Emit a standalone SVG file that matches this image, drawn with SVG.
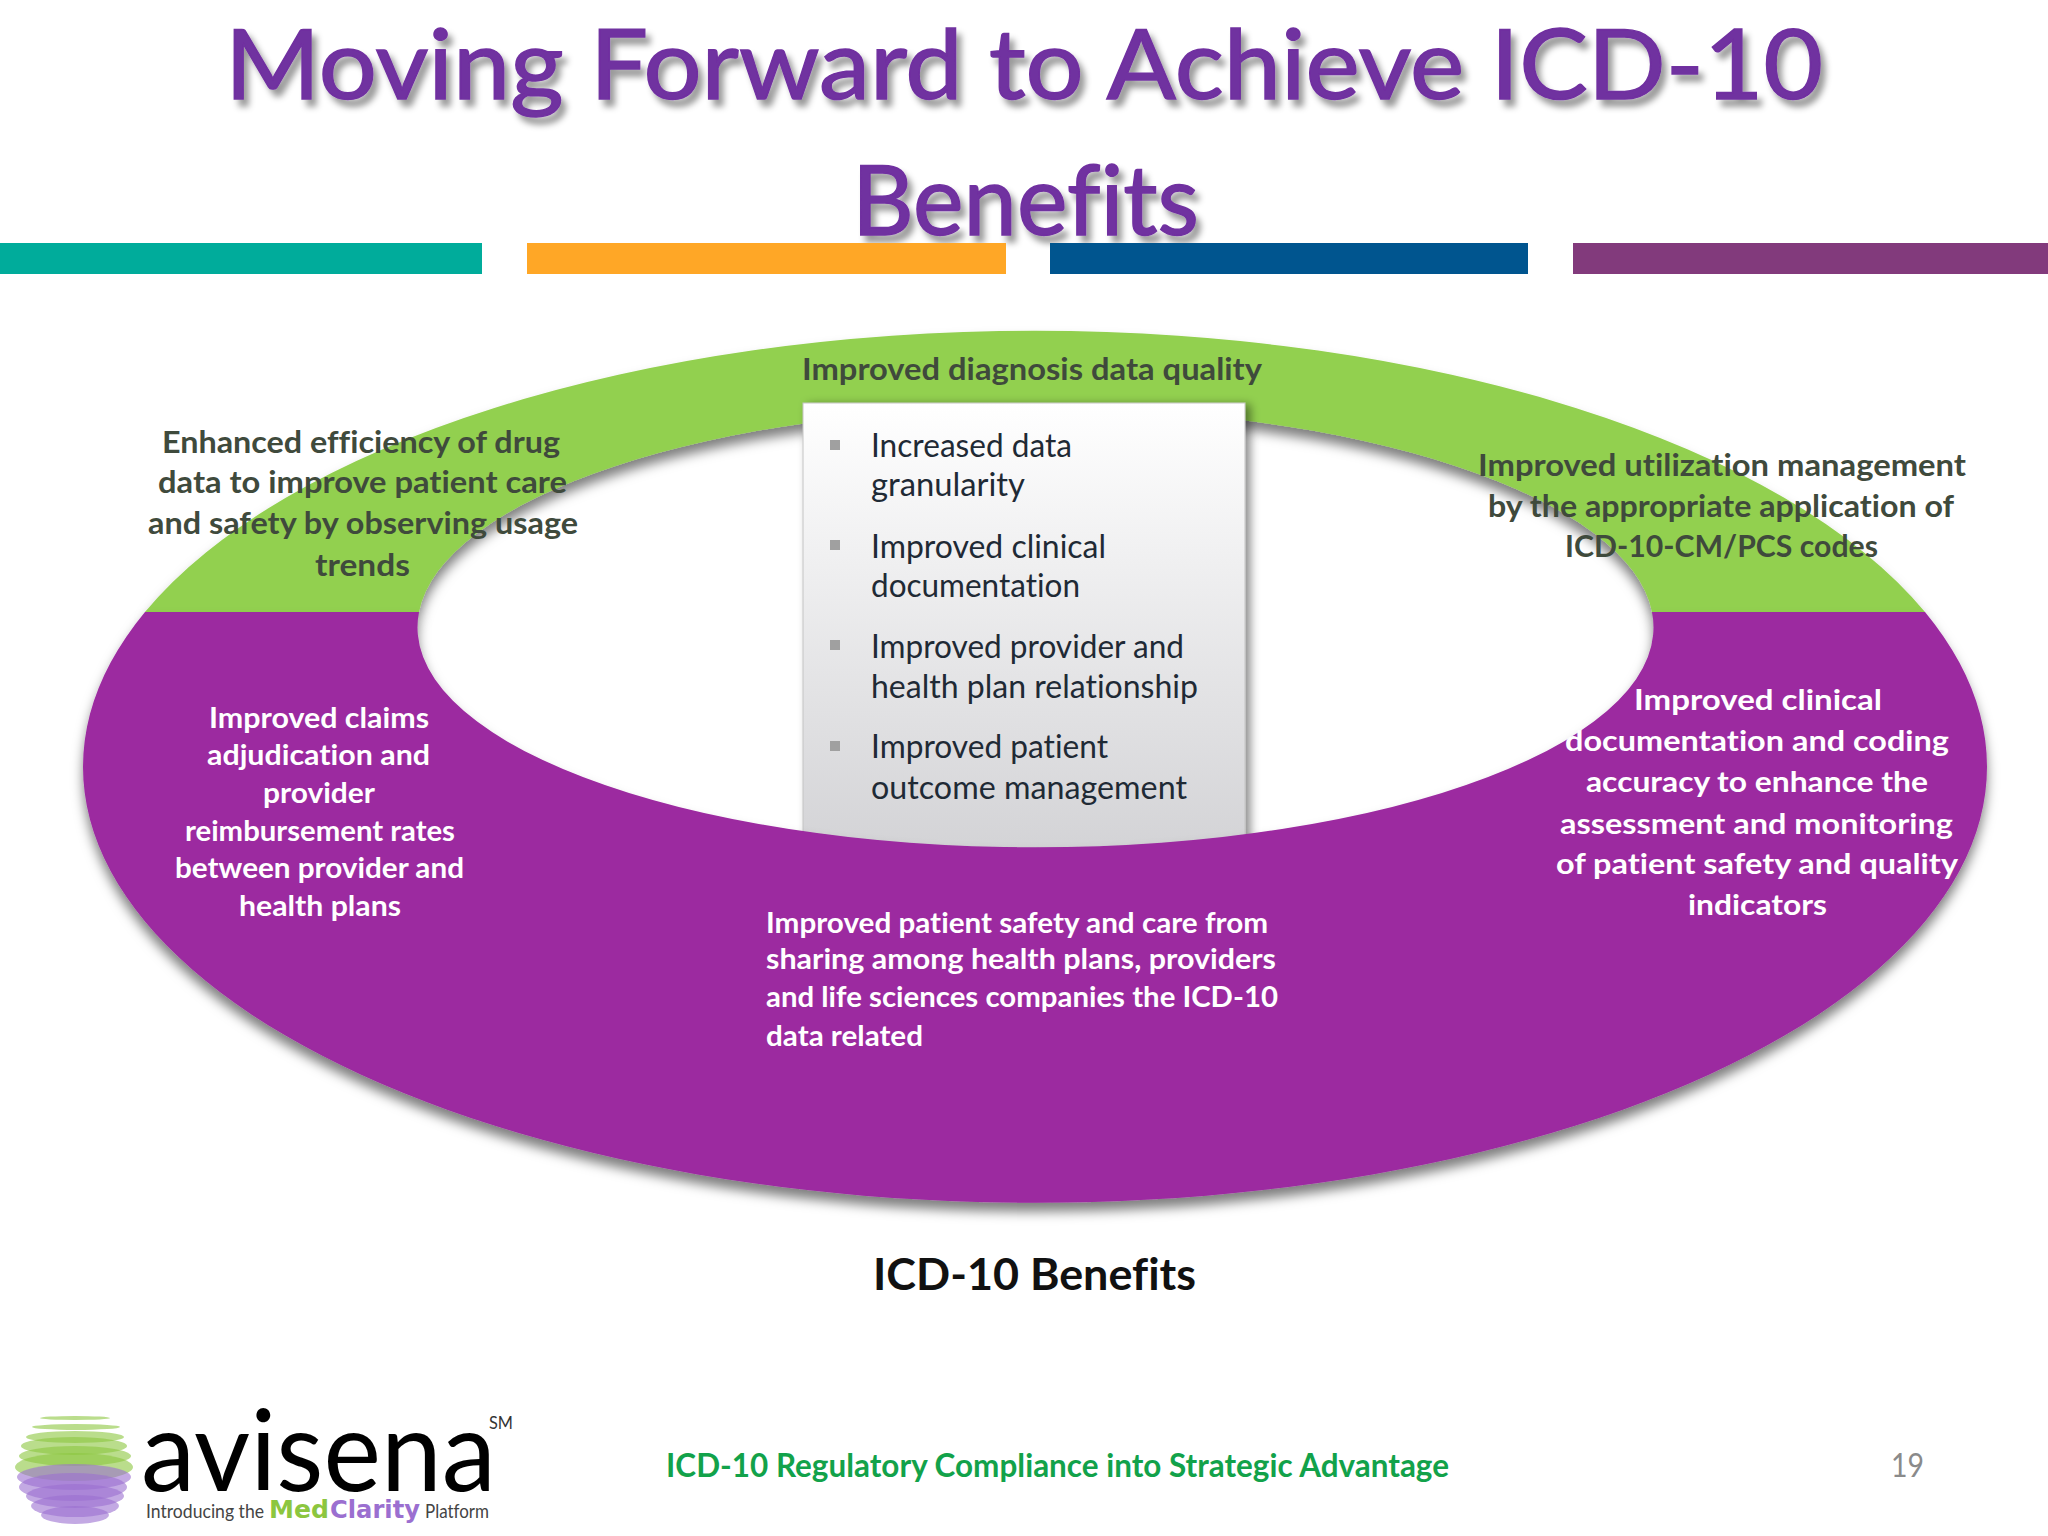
<svg xmlns="http://www.w3.org/2000/svg" width="2048" height="1536" viewBox="0 0 2048 1536">
<style>
text{font-family:"Lato","Noto Sans",sans-serif;font-variant-ligatures:none}
.title{font-size:97px;fill:#7030a0;stroke:#7030a0;stroke-width:1.5px;filter:url(#ts)}
.dark{font-size:30px;font-weight:700;fill:#3f4a3c}
.white{font-size:29px;font-weight:700;fill:#fff}
.item{font-size:32px;fill:#1f2a35}
.bullet{fill:#a0a0a0}
.lg{fill:#8cc63f;opacity:.6}
.lp{fill:#9b6fd0;opacity:.6}
</style>
<defs>
<filter id="ts" x="-5%" y="-20%" width="110%" height="150%"><feDropShadow dx="5" dy="7" stdDeviation="3" flood-color="#000" flood-opacity=".4"/></filter>
<filter id="rs" x="-5%" y="-10%" width="110%" height="125%"><feDropShadow dx="0" dy="9" stdDeviation="6" flood-color="#000" flood-opacity=".5"/></filter>
<filter id="bs" x="-10%" y="-5%" width="120%" height="110%"><feDropShadow dx="5" dy="2" stdDeviation="5" flood-color="#000" flood-opacity=".45"/></filter>
<linearGradient id="bg" x1="0" y1="0" x2="0" y2="1"><stop offset="0" stop-color="#fff"/><stop offset="1" stop-color="#d2d2d5"/></linearGradient>
</defs>
<rect width="2048" height="1536" fill="#fff"/>
<g id="title">
<text class="title" x="225" y="99" textLength="1598" lengthAdjust="spacingAndGlyphs">Moving Forward to Achieve ICD-10</text>
<text class="title" x="852" y="235" textLength="347" lengthAdjust="spacingAndGlyphs">Benefits</text>
</g>
<g id="bars">
<rect x="0" y="243" width="482" height="31" fill="#00ac9b"/>
<rect x="527" y="243" width="479" height="31" fill="#ffa726"/>
<rect x="1050" y="243" width="478" height="31" fill="#00558f"/>
<rect x="1573" y="243" width="475" height="31" fill="#823a7c"/>
</g>
<g id="ring-green"><path filter="url(#rs)" fill="#92d050" d="M145 612A952 436 0 0 1 1925 612L1652 612A618 220 0 0 0 419 612Z"/></g>
<g id="detail-box">
<rect x="803" y="403" width="442" height="460" fill="url(#bg)" stroke="#c4c4c4" filter="url(#bs)"/>
<rect class="bullet" x="830" y="440" width="10" height="10"/>
<rect class="bullet" x="830" y="540" width="10" height="10"/>
<rect class="bullet" x="830" y="640" width="10" height="10"/>
<rect class="bullet" x="830" y="741" width="10" height="10"/>
<text class="item" x="871" y="457" textLength="201" lengthAdjust="spacingAndGlyphs">Increased data</text>
<text class="item" x="871" y="496" textLength="154" lengthAdjust="spacingAndGlyphs">granularity</text>
<text class="item" x="871" y="558" textLength="235" lengthAdjust="spacingAndGlyphs">Improved clinical</text>
<text class="item" x="871" y="597" textLength="209" lengthAdjust="spacingAndGlyphs">documentation</text>
<text class="item" x="871" y="658" textLength="313" lengthAdjust="spacingAndGlyphs">Improved provider and</text>
<text class="item" x="871" y="698" textLength="327" lengthAdjust="spacingAndGlyphs">health plan relationship</text>
<text class="item" x="871" y="758" textLength="237" lengthAdjust="spacingAndGlyphs">Improved patient</text>
<text class="item" x="871" y="799" textLength="316" lengthAdjust="spacingAndGlyphs">outcome management</text>
</g>
<g id="ring-purple"><path filter="url(#rs)" fill="#9c2aa0" d="M145 612A952 436 0 1 0 1925 612L1652 612A618 220 0 1 1 419 612Z"/></g>
<g id="label-top"><text class="dark" x="802" y="380" textLength="460" lengthAdjust="spacingAndGlyphs">Improved diagnosis data quality</text></g>
<g id="label-left-green">
<text class="dark" x="162" y="453" textLength="398" lengthAdjust="spacingAndGlyphs">Enhanced efficiency of drug</text>
<text class="dark" x="158" y="493" textLength="409" lengthAdjust="spacingAndGlyphs">data to improve patient care</text>
<text class="dark" x="148" y="534" textLength="430" lengthAdjust="spacingAndGlyphs">and safety by observing usage</text>
<text class="dark" x="315" y="576" textLength="95" lengthAdjust="spacingAndGlyphs">trends</text>
</g>
<g id="label-right-green">
<text class="dark" x="1478" y="476" textLength="488" lengthAdjust="spacingAndGlyphs">Improved utilization management</text>
<text class="dark" x="1488" y="517" textLength="466" lengthAdjust="spacingAndGlyphs">by the appropriate application of</text>
<text class="dark" x="1565" y="557" textLength="313" lengthAdjust="spacingAndGlyphs">ICD-10-CM/PCS codes</text>
</g>
<g id="label-left-purple">
<text class="white" x="209" y="728" textLength="220" lengthAdjust="spacingAndGlyphs">Improved claims</text>
<text class="white" x="207" y="765" textLength="223" lengthAdjust="spacingAndGlyphs">adjudication and</text>
<text class="white" x="263" y="803" textLength="112" lengthAdjust="spacingAndGlyphs">provider</text>
<text class="white" x="185" y="841" textLength="270" lengthAdjust="spacingAndGlyphs">reimbursement rates</text>
<text class="white" x="175" y="878" textLength="289" lengthAdjust="spacingAndGlyphs">between provider and</text>
<text class="white" x="239" y="916" textLength="162" lengthAdjust="spacingAndGlyphs">health plans</text>
</g>
<g id="label-right-purple">
<text class="white" x="1634" y="710" textLength="248" lengthAdjust="spacingAndGlyphs">Improved clinical</text>
<text class="white" x="1565" y="751" textLength="384" lengthAdjust="spacingAndGlyphs">documentation and coding</text>
<text class="white" x="1586" y="792" textLength="342" lengthAdjust="spacingAndGlyphs">accuracy to enhance the</text>
<text class="white" x="1560" y="834" textLength="393" lengthAdjust="spacingAndGlyphs">assessment and monitoring</text>
<text class="white" x="1556" y="874" textLength="402" lengthAdjust="spacingAndGlyphs">of patient safety and quality</text>
<text class="white" x="1688" y="915" textLength="139" lengthAdjust="spacingAndGlyphs">indicators</text>
</g>
<g id="label-bottom-purple">
<text class="white" x="766" y="933" textLength="502" lengthAdjust="spacingAndGlyphs">Improved patient safety and care from</text>
<text class="white" x="766" y="969" textLength="510" lengthAdjust="spacingAndGlyphs">sharing among health plans, providers</text>
<text class="white" x="766" y="1007" textLength="512" lengthAdjust="spacingAndGlyphs">and life sciences companies the ICD-10</text>
<text class="white" x="766" y="1046" textLength="157" lengthAdjust="spacingAndGlyphs">data related</text>
</g>
<g id="caption"><text x="873" y="1290" font-size="44" font-weight="700" fill="#111" textLength="323" lengthAdjust="spacingAndGlyphs">ICD-10 Benefits</text></g>
<g id="logo">
<ellipse class="lg" cx="75" cy="1418" rx="35" ry="2"/>
<ellipse class="lg" cx="76" cy="1427" rx="44" ry="3"/>
<ellipse class="lg" cx="75" cy="1437" rx="49" ry="6"/>
<ellipse class="lg" cx="74" cy="1446" rx="53" ry="9"/>
<ellipse class="lg" cx="75" cy="1456" rx="56" ry="10"/>
<ellipse class="lg" cx="74" cy="1467" rx="59" ry="14"/>
<ellipse class="lp" cx="74" cy="1477" rx="57" ry="13"/>
<ellipse class="lp" cx="73" cy="1487" rx="54" ry="14"/>
<ellipse class="lp" cx="75" cy="1496" rx="49" ry="12"/>
<ellipse class="lp" cx="75" cy="1506" rx="44" ry="11"/>
<ellipse class="lp" cx="75" cy="1515" rx="34" ry="9"/>
<text x="141" y="1491" font-size="113" fill="#000" textLength="355" lengthAdjust="spacingAndGlyphs">avisena</text>
<text x="489" y="1429" font-size="17" fill="#333" textLength="24" lengthAdjust="spacingAndGlyphs">SM</text>
<text x="146" y="1518" font-size="20" fill="#444" textLength="118" lengthAdjust="spacingAndGlyphs">Introducing the</text>
<text x="269" y="1518" font-size="24" font-weight="700" style="font-family:'DejaVu Sans',sans-serif" fill="#8cc63f" textLength="60" lengthAdjust="spacingAndGlyphs">Med</text>
<text x="330" y="1518" font-size="24" font-weight="700" style="font-family:'DejaVu Sans',sans-serif" fill="#9b6fd0" textLength="90" lengthAdjust="spacingAndGlyphs">Clarity</text>
<text x="425" y="1518" font-size="20" fill="#444" textLength="64" lengthAdjust="spacingAndGlyphs">Platform</text>
</g>
<g id="footer">
<text x="666" y="1477" font-size="32" font-weight="700" fill="#12a24a" textLength="783" lengthAdjust="spacingAndGlyphs">ICD-10 Regulatory Compliance into Strategic Advantage</text>
<text x="1891" y="1477" font-size="32" fill="#8a8a8a" textLength="33" lengthAdjust="spacingAndGlyphs">19</text>
</g>
</svg>
